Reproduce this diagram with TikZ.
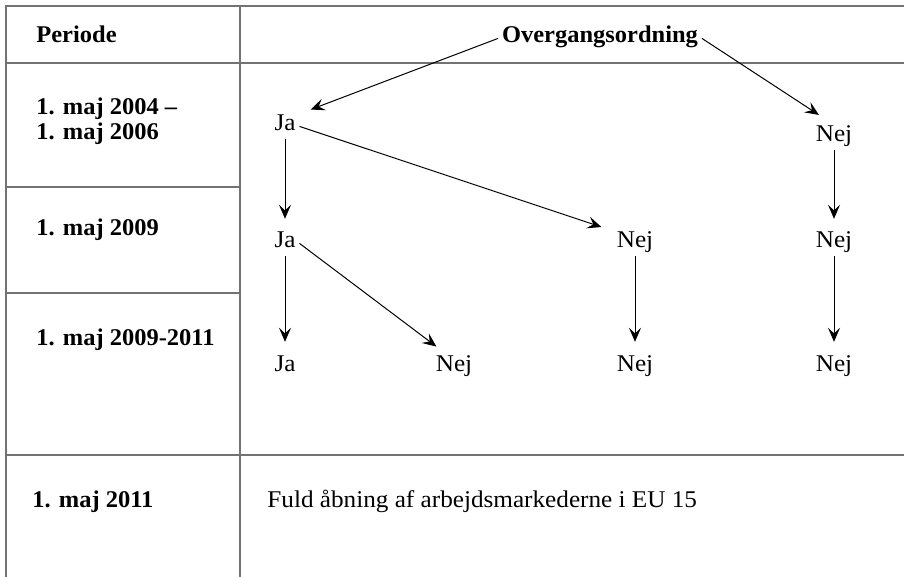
\documentclass[tikz,border=0pt]{standalone}
\usepackage{fontspec}
\setmainfont{Liberation Serif}[FakeStretch=1.05, BoldFeatures={FakeStretch=1.02}]
\usetikzlibrary{arrows.meta}
\tikzset{
  period/.style={font=\fontsize{12}{13}\selectfont\bfseries, anchor=base west, inner sep=0pt},
  answer/.style={anchor=base, text height=0.66em, text depth=0.2em, inner sep=1.8pt},
  moveArrow/.style={-{Stealth[length=7pt,width=6pt,inset=2.8pt]}, line width=0.5pt, shorten >=6pt},
  gridLine/.style={draw=black!55, line width=0.6pt}
}

\begin{document}
\begin{tikzpicture}[x=0.5pt, y=-0.5pt, font=\fontsize{12}{13}\selectfont]
  \useasboundingbox (0,0) rectangle (904,577);
  % table
  \draw[gridLine] (904,6) -- (6,6) -- (6,577);
  \draw[gridLine] (240,6) -- (240,577);
  \draw[gridLine] (6,63) -- (904,63);
  \draw[gridLine] (6,187) -- (240,187);
  \draw[gridLine] (6,293) -- (240,293);
  \draw[gridLine] (6,455) -- (904,455);
  % left column
  \node[period] (hdrPeriode) at (36,43) {Periode};
  \node[period] (per1a) at (36,115) {1. maj 2004 --};
  \node[period] (per1b) at (36,140) {1. maj 2006};
  \node[period] (per2) at (36,235) {1. maj 2009};
  \node[period] (per3) at (36,345) {1. maj 2009-2011};
  \node[period] (per4) at (32,507) {1. maj 2011};
  \node[anchor=base west, inner sep=0pt] (full) at (267,507) {Fuld åbning af arbejdsmarkederne i EU 15};
  % answers
  \node[answer, font=\fontsize{12}{13}\selectfont\bfseries] (og) at (600,43) {Overgangsordning};
  \node[answer] (ja1) at (285,131) {Ja};
  \node[answer] (nej1) at (834,142) {Nej};
  \node[answer] (ja2) at (285,248) {Ja};
  \node[answer] (nej2a) at (635,248) {Nej};
  \node[answer] (nej2b) at (834,248) {Nej};
  \node[answer] (ja3) at (285,371) {Ja};
  \node[answer] (nej3a) at (454,371) {Nej};
  \node[answer] (nej3b) at (635,371) {Nej};
  \node[answer] (nej3c) at (834,371) {Nej};
  % transitions
  \draw[moveArrow] (og.west) -- (ja1.north east);
  \draw[moveArrow, shorten >=9pt] (og.east) -- (nej1.north);
  \draw[moveArrow] (ja1) -- (ja2);
  \draw[moveArrow] (ja1.east) -- (nej2a.north west);
  \draw[moveArrow] (nej1) -- (nej2b);
  \draw[moveArrow] (ja2) -- (ja3);
  \draw[moveArrow] (ja2.east) -- ([xshift=-4pt]nej3a.north);
  \draw[moveArrow] (nej2a) -- (nej3b);
  \draw[moveArrow] (nej2b) -- (nej3c);
\end{tikzpicture}
\end{document}
